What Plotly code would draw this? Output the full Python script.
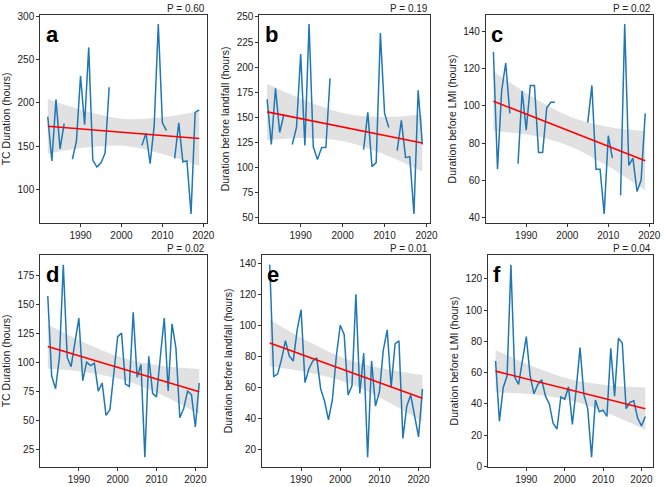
import plotly.graph_objects as go

# ---------------- data ----------------
years_top = list(range(1982, 2020))
years_bot = list(range(1982, 2022))
N = None

a_vals = [184, 133, 204, 147, 176, N, 135, 156, 231, 175, 264, 134, 126, 131, 142, 218,
          N, N, N, N, N, N, N, 151, 165, 130, 174, 291, 177, 168, N, 136, 177, 132, 133, 72, 189, 192]
b_vals = [168, 123, 179, 135, 153, N, 123, 140, 213, 122, 243, 121, 108, 120, 120, 189,
          N, N, N, N, N, N, N, 118, 155, 101, 105, 234, 154, 140, N, 117, 147, 110, 111, 54, 177, 123]
c_vals = [129, 66, 108, 123, 96, N, 69, 108, 87, 111, 111, 75, 75, 99, 102, 102,
          N, N, N, N, N, N, N, 91, 111, 66, 66, 42, 84, 72, N, 52, 144, 68, 72, 54, 60, 96]
d_vals = [157, 88, 77, 104, 184, 104, 96, 118, 138, 84, 100, 97, 99, 75, 82, 54, 59, 90, 122, 125,
          81, 79, 143, 87, 98, 18, 105, 73, 70, 105, 138, 75, 133, 112, 52, 60, 75, 72, 44, 82]
e_vals = [139, 67, 68.5, 78, 90, 80, 77, 97, 110, 63, 72, 77, 79, 59, 51, 39, 52, 80, 100, 94,
          55, 61, 120, 56, 82, 15, 77, 48, 57, 84, 97, 60, 88, 90, 27, 48, 55, 42, 28, 59]
f_vals = [67.5, 29, 50.5, 58, 129, 57, 52.5, 69, 83, 58, 46.5, 52.5, 55.5, 45, 40, 27.5, 24, 44.5, 43, 51,
          27, 49.5, 76, 46, 37, 6, 42.5, 35, 36, 32, 75.5, 45, 82, 79, 37, 41, 42, 31, 26, 32]

# trend line end values (start year, end year)
a_trend = [173, 159]
b_trend = [155.5, 124.5]
c_trend = [102.5, 70.5]
d_trend = [113.5, 74.5]
e_trend = [88.5, 53]
f_trend = [61, 37]

# confidence band (upper / lower) at 5 evenly spaced years
band_years_top = [1982, 1991.25, 2000.5, 2009.75, 2019]
band_years_bot = [1982, 1991.75, 2001.5, 2011.25, 2021]
a_up = [204.5, 190.6, 181.5, 183.4, 190.5]
a_lo = [141.5, 148.6, 150.5, 141.4, 127.5]
b_up = [183.5, 166.5, 154, 150.5, 153]
b_lo = [127.5, 129.5, 126, 113.5, 96]
c_up = [118.5, 105.2, 94.5, 88.8, 86.5]
c_lo = [86.5, 84.2, 78.5, 67.8, 54.5]
d_up = [132.5, 116.3, 103.5, 96.8, 94]
d_lo = [94.5, 91.3, 84.5, 71.8, 55]
e_up = [103.5, 89.6, 78.3, 71.9, 68]
e_lo = [73.5, 69.6, 63.3, 51.9, 38]
f_up = [74.5, 64, 55.8, 52, 50.5]
f_lo = [47.5, 46, 42.3, 34, 23.5]

p_values = ["P = 0.60", "P = 0.19", "P = 0.02", "P = 0.02", "P = 0.01", "P = 0.04"]
letters = ["a", "b", "c", "d", "e", "f"]
y_titles = ["TC Duration (hours)", "Duration before landfall (hours)", "Duration before LMI (hours)",
            "TC Duration (hours)", "Duration before landfall (hours)", "Duration before LMI (hours)"]
y_ticks = [[100, 150, 200, 250, 300],
           [50, 75, 100, 125, 150, 175, 200, 225, 250],
           [40, 60, 80, 100, 120, 140],
           [25, 50, 75, 100, 125, 150, 175],
           [20, 40, 60, 80, 100, 120, 140],
           [0, 20, 40, 60, 80, 100, 120]]
x_ticks = [1990, 2000, 2010, 2020]

panels = [
    (years_top, a_vals, a_trend, band_years_top, a_up, a_lo),
    (years_top, b_vals, b_trend, band_years_top, b_up, b_lo),
    (years_top, c_vals, c_trend, band_years_top, c_up, c_lo),
    (years_bot, d_vals, d_trend, band_years_bot, d_up, d_lo),
    (years_bot, e_vals, e_trend, band_years_bot, e_up, e_lo),
    (years_bot, f_vals, f_trend, band_years_bot, f_up, f_lo),
]

# ---------------- layout geometry ----------------
W, H = 669, 487
x_domains = [[40.7 / W, 209.3 / W], [262.5 / W, 435.3 / W], [491.7 / W, 660.7 / W],
             [40.7 / W, 209.3 / W], [265.3 / W, 435.3 / W], [494.0 / W, 660.7 / W]]
y_domains = [[1 - 223.5 / H, 1 - 10.7 / H]] * 3 + [[1 - 471.5 / H, 1 - 255.8 / H]] * 3

FONT = "Liberation Sans, Arial, Helvetica, sans-serif"
FRAME = "#333333"

fig = go.Figure()
layout = dict(
    width=W, height=H, margin=dict(l=0, r=0, t=0, b=0),
    paper_bgcolor="white", plot_bgcolor="white", showlegend=False,
    font=dict(family=FONT, size=10, color="#222222"),
    annotations=[],
)

for i, (yrs, vals, trend, byrs, up, lo) in enumerate(panels):
    k = "" if i == 0 else str(i + 1)
    xa, ya = "x" + k, "y" + k
    # band
    fig.add_trace(go.Scatter(x=byrs, y=up, mode="lines", line=dict(width=0, shape="spline"),
                             xaxis=xa, yaxis=ya, hoverinfo="skip"))
    fig.add_trace(go.Scatter(x=byrs, y=lo, mode="lines", line=dict(width=0, shape="spline"),
                             fill="tonexty", fillcolor="rgba(205,205,205,0.6)",
                             xaxis=xa, yaxis=ya, hoverinfo="skip"))
    # data
    fig.add_trace(go.Scatter(x=yrs, y=vals, mode="lines", line=dict(color="#1f77b4", width=1.5),
                             connectgaps=False, xaxis=xa, yaxis=ya))
    # trend
    fig.add_trace(go.Scatter(x=[yrs[0], yrs[-1]], y=trend, mode="lines",
                             line=dict(color="#ff0000", width=1.6), xaxis=xa, yaxis=ya))

    span = yrs[-1] - yrs[0]
    xr = [yrs[0] - 0.05 * span, yrs[-1] + 0.05 * span]
    valid = [v for v in vals if v is not None]
    ymin, ymax = min(valid), max(valid)
    yspan = ymax - ymin
    yr = [ymin - 0.05 * yspan, ymax + 0.05 * yspan]

    axis_common = dict(showline=True, linecolor=FRAME, linewidth=1, mirror=True,
                       showgrid=False, zeroline=False, ticks="outside", ticklen=3,
                       tickcolor=FRAME, tickwidth=1,
                       tickfont=dict(family=FONT, size=10, color="#222222"))
    layout["xaxis" + k] = dict(domain=x_domains[i], range=xr, tickvals=x_ticks,
                               anchor=ya, **axis_common)
    layout["yaxis" + k] = dict(domain=y_domains[i], range=yr, tickvals=y_ticks[i],
                               anchor=xa, title=dict(text=y_titles[i], standoff=4,
                                                     font=dict(family=FONT, size=10.5, color="#222222")),
                               **axis_common)
    layout["annotations"].append(dict(
        text=p_values[i], xref=xa + " domain", yref=ya + " domain", x=1.0, y=1.0,
        xanchor="right", yanchor="bottom", showarrow=False, yshift=-1,
        font=dict(family=FONT, size=10, color="#222222")))
    layout["annotations"].append(dict(
        text="<b>" + letters[i] + "</b>", xref=xa + " domain", yref=ya + " domain", x=0.02, y=0.975,
        xanchor="left", yanchor="top", showarrow=False,
        font=dict(family=FONT, size=22, color="black")))

fig.update_layout(**layout)
fig.write_html("out.html")
